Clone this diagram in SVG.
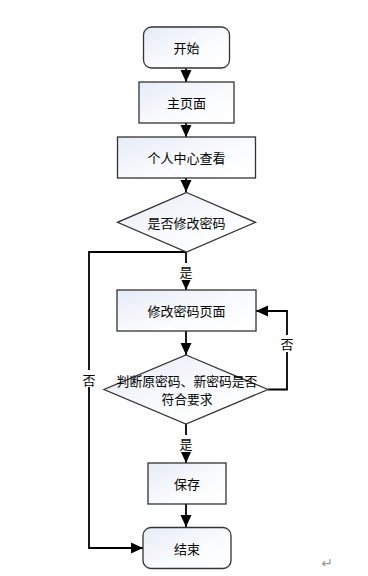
<svg xmlns="http://www.w3.org/2000/svg" width="368" height="576" viewBox="0 0 368 576">
<defs>
<linearGradient id="g" x1="0" y1="0" x2="1" y2="1">
<stop offset="0" stop-color="#e6ebf6"/>
<stop offset="0.6" stop-color="#fbfcfe"/>
<stop offset="1" stop-color="#ffffff"/>
</linearGradient>
<marker id="ah" markerUnits="userSpaceOnUse" markerWidth="12" markerHeight="12" refX="12" refY="6" orient="auto">
<path d="M0,0.5 L12,6 L0,11.5 z" fill="#000"/>
</marker>
<style>
.n{fill:url(#g);stroke:#333;stroke-width:1.3}
.t{font-family:"Noto Sans CJK SC","Liberation Sans",sans-serif;font-size:13px;fill:#000;text-anchor:middle;dominant-baseline:central}
.c{fill:none;stroke:#000;stroke-width:1.8}
.lb{fill:#fff}
</style>
</defs>
<rect width="368" height="576" fill="#fff"/>
<g id="connectors">
<path class="c" d="M186,68 L186,82" marker-end="url(#ah)"/>
<path class="c" d="M186,123 L186,137" marker-end="url(#ah)"/>
<path class="c" d="M186,178 L186,192" marker-end="url(#ah)"/>
<path class="c" d="M186,252 L186,290" marker-end="url(#ah)"/>
<path class="c" d="M186,331 L186,355" marker-end="url(#ah)"/>
<path class="c" d="M186,424 L186,463" marker-end="url(#ah)"/>
<path class="c" d="M186,504 L186,527" marker-end="url(#ah)"/>
<path class="c" d="M186,252 L89,252 L89,548 L143,548" marker-end="url(#ah)"/>
<path class="c" d="M268,389.5 L287,389.5 L287,311 L256,311" marker-end="url(#ah)"/>
<rect class="lb" x="179" y="263" width="14" height="17"/>
<text class="t" x="186" y="271.5">是</text>
<rect class="lb" x="179" y="435" width="14" height="17"/>
<text class="t" x="186" y="443.5">是</text>
<rect class="lb" x="280" y="335" width="14" height="17"/>
<text class="t" x="287" y="343.5">否</text>
<rect class="lb" x="82" y="370" width="14" height="17"/>
<text class="t" x="89" y="379">否</text>
</g>
<g id="start">
<rect class="n" x="143.5" y="27" width="86" height="41" rx="8"/>
<text class="t" x="186.5" y="47.5">开始</text>
</g>
<g id="home">
<rect class="n" x="139" y="82" width="95" height="41"/>
<text class="t" x="186.5" y="102.5">主页面</text>
</g>
<g id="profile">
<rect class="n" x="117.5" y="137" width="138" height="41"/>
<text class="t" x="186.5" y="157.5">个人中心查看</text>
</g>
<g id="decision1">
<polygon class="n" points="186.5,192.5 255.5,222.3 186.5,252 117.5,222.3"/>
<text class="t" x="186.5" y="222.3">是否修改密码</text>
</g>
<g id="changepage">
<rect class="n" x="117" y="290" width="139" height="41"/>
<text class="t" x="186.5" y="310.5">修改密码页面</text>
</g>
<g id="decision2">
<polygon class="n" points="186,355 268,389.5 186,424 104,389.5"/>
<text class="t" x="187" y="380" style="font-size:12.8px">判断原密码、新密码是否</text>
<text class="t" x="187" y="398.5" style="font-size:12.8px">符合要求</text>
</g>
<g id="save">
<rect class="n" x="148" y="463" width="78" height="41"/>
<text class="t" x="187" y="483.5">保存</text>
</g>
<g id="end">
<rect class="n" x="143" y="527.5" width="88" height="41" rx="8"/>
<text class="t" x="187" y="548">结束</text>
</g>
<text x="327" y="563" style="font-family:'DejaVu Sans',sans-serif;font-size:14px;fill:#999;text-anchor:middle;dominant-baseline:central">↵</text>
</svg>
